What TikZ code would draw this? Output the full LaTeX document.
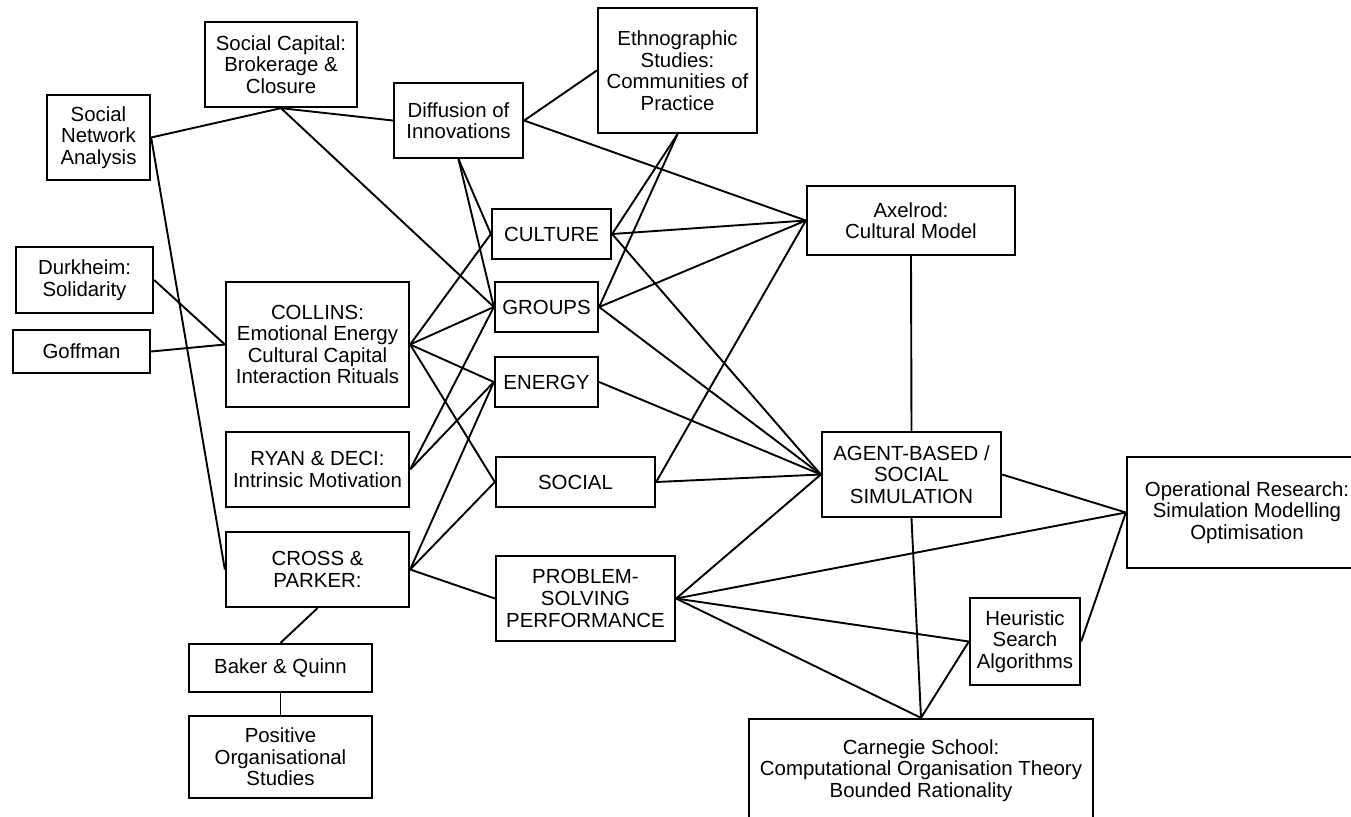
\documentclass[tikz,border=0pt]{standalone}
\usepackage{fontspec}
\setmainfont{Liberation Sans}
\begin{document}
\begin{tikzpicture}[x=0.5pt,y=-0.5pt,
  box/.style={draw,line width=1.15pt,fill=white,inner sep=0pt,align=center,
    font=\fontsize{10.2}{10.8}\selectfont},
  link/.style={line width=0.95pt}]
\useasboundingbox (0,0) rectangle (1351,816);
\clip (0,0) rectangle (1351,816);

% left column
\node[box,minimum width=51.5pt,minimum height=42.5pt] (sna) at (98.5,137.5) {Social\\Network\\Analysis};
\node[box,minimum width=76pt,minimum height=42.5pt] (sc) at (281,64.5) {Social Capital:\\Brokerage \&\\Closure};
\node[box,minimum width=68.5pt,minimum height=33pt] (durk) at (84.5,280) {Durkheim:\\Solidarity};
\node[box,minimum width=68.5pt,minimum height=21.5pt] (goff) at (81.5,351.5) {Goffman};
\node[box,minimum width=91.5pt,minimum height=62.5pt] (collins) at (317.5,344.5) {COLLINS:\\Emotional Energy\\Cultural Capital\\Interaction Rituals};
\node[box,minimum width=91.5pt,minimum height=37.5pt] (ryan) at (317.5,469.5) {RYAN \& DECI:\\Intrinsic Motivation};
\node[box,minimum width=91.5pt,minimum height=37.5pt] (cross) at (317.5,569.5) {CROSS \&\\PARKER:};
\node[box,minimum width=91.5pt,minimum height=24pt] (baker) at (280.5,668) {Baker \& Quinn};
\node[box,minimum width=91.5pt,minimum height=41pt] (pos) at (280.5,757) {Positive\\Organisational\\Studies};

% middle column
\node[box,minimum width=64.5pt,minimum height=37.5pt] (diff) at (458.5,120.5) {Diffusion of\\Innovations};
\node[box,minimum width=79.5pt,minimum height=62.5pt] (eth) at (677.5,70.5) {Ethnographic\\Studies:\\Communities of\\Practice};
\node[box,minimum width=59.5pt,minimum height=25pt] (cult) at (551.5,234) {CULTURE};
\node[box,minimum width=51.5pt,minimum height=25pt] (groups) at (546.5,307) {GROUPS};
\node[box,minimum width=51.5pt,minimum height=25pt] (energy) at (546.5,382) {ENERGY};
\node[box,minimum width=79.5pt,minimum height=25pt] (social) at (575.5,482) {SOCIAL};
\node[box,minimum width=89.5pt,minimum height=42.5pt] (prob) at (585.5,598.5) {PROBLEM-\\SOLVING\\PERFORMANCE};

% right column
\node[box,minimum width=104pt,minimum height=34.5pt] (ax) at (911,220.5) {Axelrod:\\Cultural Model};
\node[box,minimum width=89.5pt,minimum height=42.5pt] (abm) at (911.5,474.5) {AGENT-BASED /\\SOCIAL\\SIMULATION};
\node[box,minimum width=120pt,minimum height=55.5pt] (or) at (1247,512.5) {Operational Research:\\Simulation Modelling\\Optimisation};
\node[box,minimum width=55pt,minimum height=43.5pt] (heur) at (1025,641.5) {Heuristic\\Search\\Algorithms};
\node[box,minimum width=172pt,minimum height=51.5pt] (carn) at (921,770.5) {Carnegie School:\\Computational Organisation Theory\\Bounded Rationality};

% connectors
\draw[link] (sna.east) -- (sc.south);
\draw[link] (sna.east) -- (cross.west);
\draw[link] (sc.south) -- (diff.west);
\draw[link] (sc.south) -- (groups.west);
\draw[link] (diff.east) -- (eth.west);
\draw[link] (diff.east) -- (ax.west);
\draw[link] (diff.south) -- (cult.west);
\draw[link] (diff.south) -- (groups.west);
\draw[link] (eth.south) -- (cult.east);
\draw[link] (eth.south) -- (groups.east);
\draw[link] (cult.east) -- (ax.west);
\draw[link] (cult.east) -- (abm.west);
\draw[link] (groups.east) -- (ax.west);
\draw[link] (groups.east) -- (abm.west);
\draw[link] (energy.east) -- (abm.west);
\draw[link] (social.east) -- (abm.west);
\draw[link] (social.east) -- (ax.west);
\draw[link] (ax.south) -- (abm.north);
\draw[link] (abm.east) -- (or.west);
\draw[link] (abm.south) -- (carn.north);
\draw[link] (prob.east) -- (abm.west);
\draw[link] (prob.east) -- (or.west);
\draw[link] (prob.east) -- (heur.west);
\draw[link] (prob.east) -- (carn.north);
\draw[link] (heur.west) -- (carn.north);
\draw[link] (heur.east) -- (or.west);
\draw[link] (durk.east) -- (collins.west);
\draw[link] (goff.east) -- (collins.west);
\draw[link] (collins.east) -- (cult.west);
\draw[link] (collins.east) -- (groups.west);
\draw[link] (collins.east) -- (energy.west);
\draw[link] (collins.east) -- (social.west);
\draw[link] (ryan.east) -- (groups.west);
\draw[link] (ryan.east) -- (energy.west);
\draw[link] (cross.east) -- (energy.west);
\draw[link] (cross.east) -- (social.west);
\draw[link] (cross.east) -- (prob.west);
\draw[link] (cross.south) -- (baker.north);
\draw[link] (baker.south) -- (pos.north);
\end{tikzpicture}
\end{document}
